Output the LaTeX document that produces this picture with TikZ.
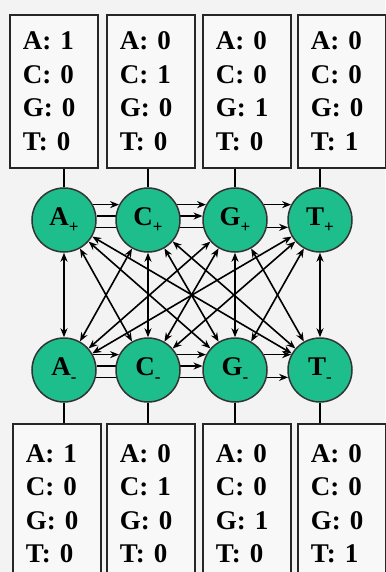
\documentclass[tikz,border=0pt]{standalone}
\usepackage{fontspec}
\setmainfont{Liberation Serif}
\usetikzlibrary{arrows.meta}
\pgfdeclarelayer{back}
\pgfdeclarelayer{links}
\pgfsetlayers{back,links,main}
\definecolor{stategreen}{RGB}{30,190,140}
\definecolor{bgcol}{RGB}{243,243,243}
\definecolor{boxcol}{RGB}{248,248,248}
\tikzset{
  emitbox/.style={draw=black!85, line width=1.9pt, fill=boxcol, anchor=north west,
    align=left, text width=62pt, inner xsep=13pt, minimum width=88pt,
    font=\fontsize{27}{33.5}\selectfont\bfseries},
  state/.style={circle, draw=black!80, line width=1.5pt, fill=stategreen,
    minimum size=64pt, inner sep=0pt, font=\fontsize{27}{27}\selectfont\bfseries},
  link/.style={line width=1.6pt, black},
  arr/.style={link, -{Stealth[length=9pt,width=7pt]}},
  arrboth/.style={link, {Stealth[length=9pt,width=7pt]}-{Stealth[length=9pt,width=7pt]}},
}
\newcommand{\subp}{\raisebox{-7pt}{\fontsize{17}{17}\selectfont +}}
\newcommand{\subm}{\raisebox{-7pt}{\fontsize{17}{17}\selectfont -}}
\begin{document}
\begin{tikzpicture}[x=1pt,y=-1pt]
\useasboundingbox (0,0) rectangle (385,572);
\begin{pgfonlayer}{back}
\fill[bgcol] (0,0) rectangle (385,572);
\end{pgfonlayer}
% top emission boxes
\node[emitbox, minimum height=153pt] (TB1) at (9,14) {A: 1\\C: 0\\G: 0\\T: 0};
\node[emitbox, minimum height=153pt] (TB2) at (106,14) {A: 0\\C: 1\\G: 0\\T: 0};
\node[emitbox, minimum height=153pt] (TB3) at (202,14) {A: 0\\C: 0\\G: 1\\T: 0};
\node[emitbox, minimum height=153pt] (TB4) at (297,14) {A: 0\\C: 0\\G: 0\\T: 1};
% bottom emission boxes
\node[emitbox, minimum height=160pt] (BB1) at (12,423) {A: 1\\C: 0\\G: 0\\T: 0};
\node[emitbox, minimum height=160pt] (BB2) at (106,423) {A: 0\\C: 1\\G: 0\\T: 0};
\node[emitbox, minimum height=160pt] (BB3) at (202,423) {A: 0\\C: 0\\G: 1\\T: 0};
\node[emitbox, minimum height=160pt] (BB4) at (297,423) {A: 0\\C: 0\\G: 0\\T: 1};
% states
\node[state] (P1) at (64,220) {A\subp};
\node[state] (P2) at (148,220) {C\subp};
\node[state] (P3) at (235,220) {G\subp};
\node[state] (P4) at (320,220) {T\subp};
\node[state] (M1) at (64,370) {A\subm};
\node[state] (M2) at (148,370) {C\subm};
\node[state] (M3) at (235,370) {G\subm};
\node[state] (M4) at (320,370) {T\subm};
% box to state lines
\foreach \k in {1,2,3,4}{
  \draw[link] (P\k.north) -- (P\k.north |- TB\k.south);
  \draw[link] (M\k.south) -- (M\k.south |- BB\k.north);
}
\begin{pgfonlayer}{links}
% horizontal transitions within each row
\foreach \r in {P,M}{
  \draw[arr] (\r1.28) -- (\r2.152);
  \draw[arr] (\r2.28) -- (\r3.152);
  \draw[arr] (\r3.28) -- (\r4.152);
  \draw[arr] (\r1.7) -- (\r3.173);
  \draw[arr] (\r1.-13) -- (\r4.-167);
}
% vertical and diagonal transitions between the rows
\foreach \i in {1,2,3,4}{
  \foreach \j in {1,2,3,4}{
    \draw[arrboth] (P\i) -- (M\j);
  }
}
\end{pgfonlayer}
\end{tikzpicture}
\end{document}
